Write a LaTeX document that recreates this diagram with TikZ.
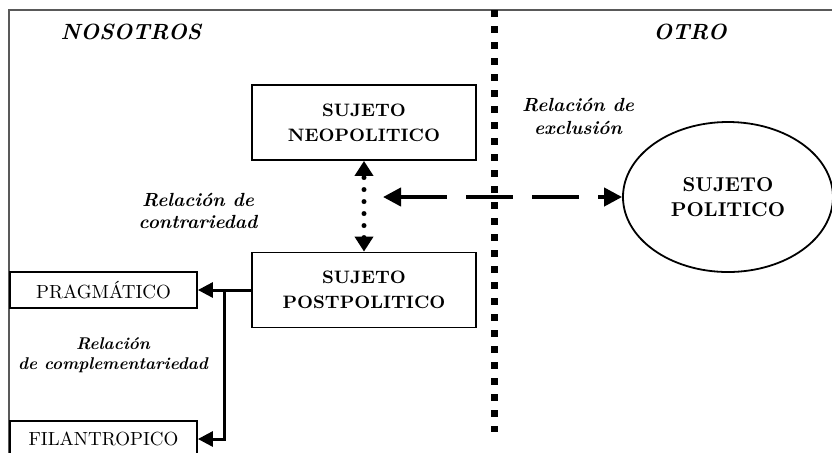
\documentclass[tikz,border=0pt]{standalone}
\usepackage{tikz}
\usetikzlibrary{shapes,arrows.meta}
\usetikzlibrary{positioning}
\tikzstyle{bloque} = [
	draw,
	line width = 0.9pt,
	minimum width = 112pt,
	minimum height = 37.5pt,
	align = center,
	font = \fontsize{9}{12.5}\selectfont\bfseries
]
\tikzstyle{tipo} = [
	draw,
	line width = 0.9pt,
	minimum width = 93.5pt,
	minimum height = 18pt,
	font = \fontsize{9.5}{10}\selectfont
]
\tikzstyle{relacion} = [align = center, font = \fontsize{9.5}{11}\selectfont\bfseries\itshape]
\tikzstyle{campo} = [font = \fontsize{11}{12}\selectfont\bfseries\itshape]
\tikzstyle{flecha} = [line width = 1.5pt, -{Triangle[length=7.5pt,width=7.5pt]}]

\begin{document}
\begin{tikzpicture}[x=0.5pt, y=-0.5pt]
	\useasboundingbox (0,0) rectangle (832,452);
	\clip (0,0) rectangle (832,452);
	\draw[line width=1pt, black!65] (9,480) |- (860,10);

	\node [bloque] (neo) at (364,122.5) {SUJETO\\NEOPOLITICO};
	\node [bloque, below of=neo, node distance=83.75pt] (post) {SUJETO\\POSTPOLITICO};
	\node [tipo, left of=post, node distance=130.25pt] (prag) {PRAGMÁTICO};
	\node [tipo, below of=prag, node distance=74.5pt] (fila) {FILANTROPICO};
	\node [ellipse, draw, line width=0.9pt, minimum width=105pt, minimum height=75pt, inner sep=0pt, align=center,
		font=\fontsize{10}{12.5}\selectfont\bfseries] (pol) at (728,197) {SUJETO\\POLITICO};

	\node [campo] (nos) at (131,32) {NOSOTROS};
	\node [campo] (otro) at (690,32) {OTRO};
	\node [relacion] (lblcontra) at (198,211) {Relación de\\contrariedad};
	\node [relacion, font=\fontsize{9.5}{11.5}\selectfont\bfseries\itshape] (lblexcl) at (578,116) {Relación de\\exclusión};
	\node [relacion, font=\fontsize{8.5}{10}\selectfont\bfseries\itshape] (lblcompl) at (113,355) {Relación\\de complementariedad};

	\coordinate (divtop) at (494,10);
	\coordinate (divbot) at (494,432);
	\coordinate (excl) at (383,197);
	\coordinate (rama) at (224,290);

	\draw[line width=3.5pt, dash pattern=on 3.5pt off 4.5pt] (divtop) -- (divbot);
	\draw[line width=2.5pt, line cap=round, dash pattern=on 0pt off 6pt,
		{Triangle[length=7.5pt,width=9pt]}-{Triangle[length=7.5pt,width=9pt]}] (post.north) -- (neo.south);
	\draw[line width=2pt, dash pattern=on 23.5pt off 9.5pt,
		{Triangle[length=9pt,width=9pt]}-{Triangle[length=9pt,width=9pt]}] (excl) -- (pol.west);
	\draw[flecha] (post.west) -- (prag.east);
	\draw[flecha] (rama) |- (fila.east);

\end{tikzpicture}
\end{document}
